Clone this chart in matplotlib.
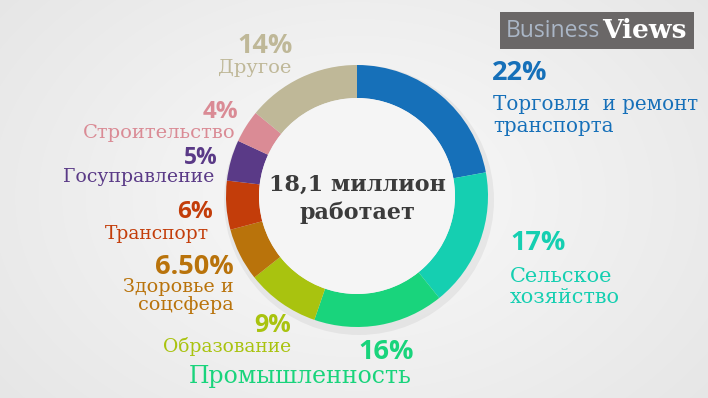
import numpy as np
import matplotlib.pyplot as plt

# --- data ---
sectors = ["Торговля  и ремонт\nтранспорта", "Сельское\nхозяйство", "Промышленность",
           "Образование", "Здоровье и\nсоцсфера", "Транспорт", "Госуправление",
           "Строительство", "Другое"]
shares = [22, 17, 16, 9, 6.5, 6, 5, 4, 14]
pct_labels = ["22%", "17%", "16%", "9%", "6.50%", "6%", "5%", "4%", "14%"]
colors = ["#1670b9", "#15cfb1", "#19d47c", "#a9c30f", "#b9730b",
          "#c33d0a", "#5a3a87", "#da8b95", "#bfb898"]
center_text = "18,1 миллион\nработает"

W, H = 708, 398
fig = plt.figure(figsize=(W / 100, H / 100), dpi=100)
ax = fig.add_axes([0, 0, 1, 1])

# background: soft radial gradient
yy, xx = np.mgrid[0:H, 0:W]
r = np.sqrt(((xx - 357) / 420) ** 2 + ((yy - 196) / 300) ** 2)
bg = np.clip(0.975 - 0.07 * r, 0.88, 1)
ax.imshow(bg, cmap="gray", vmin=0, vmax=1, extent=(0, W, 0, H), origin="upper")

cx, cy, R = 357, H - 196, 131
# faint shadow under the ring
ax.add_patch(plt.Circle((cx + 2, cy - 4), R + 4, color="#000000", alpha=0.05, lw=0))
ax.pie(shares, colors=colors, startangle=90, counterclock=False, radius=R,
       center=(cx, cy), wedgeprops=dict(width=33, linewidth=0))
ax.add_patch(plt.Circle((cx, cy), R - 33, color="#f5f5f5", lw=0))

ax.set_xlim(0, W)
ax.set_ylim(0, H)
ax.set_aspect("equal")
ax.axis("off")

# label placement (pixel coords from top-left): pct pos, label pos, alignment,
# pct size, label size, line spacing
layout = [
    ((492, 73), (493, 115), "left", 19.5, 14.3, 1.2),
    ((510, 243), (510, 287), "left", 19.5, 15, 1.15),
    ((414, 352), (412, 376), "right", 19.5, 17, 1.2),
    ((291, 325), (291, 346), "right", 18, 13.5, 1.2),
    ((234, 267), (234, 296), "right", 19.5, 13.8, 1.05),
    ((213, 212), (209, 234), "right", 17.5, 13.5, 1.2),
    ((218, 158), (214, 177), "right", 16.5, 13.6, 1.2),
    ((238, 112), (236, 133), "right", 17.5, 14, 1.2),
    ((293, 46), (291, 68), "right", 19.5, 14, 1.2),
]

for txt, pct, col, (pp, lp, ha, ps, ls, sp) in zip(sectors, pct_labels, colors, layout):
    ax.text(pp[0], H - pp[1], pct, ha=ha, va="center", color=col,
            fontsize=ps, fontweight="bold", family="Open Sans")
    ax.text(lp[0], H - lp[1], txt, ha=ha, va="center", color=col,
            fontsize=ls, family="DejaVu Serif", linespacing=sp)

ax.text(cx, H - 199, center_text, ha="center", va="center", color="#3b3b3b",
        fontsize=16, fontweight="bold", family="DejaVu Serif", linespacing=1.35)

# logo
ax.add_patch(plt.Rectangle((500, H - 49), 194, 37, color="#6a6767", lw=0))
ax.text(600, H - 31, "Business", ha="right", va="center", color="#aab6c6",
        fontsize=16.5, family="Open Sans")
ax.text(602, H - 31, "Views", ha="left", va="center", color="white",
        fontsize=19, fontweight="bold", family="DejaVu Serif")

fig.savefig("out.png", dpi=100)
